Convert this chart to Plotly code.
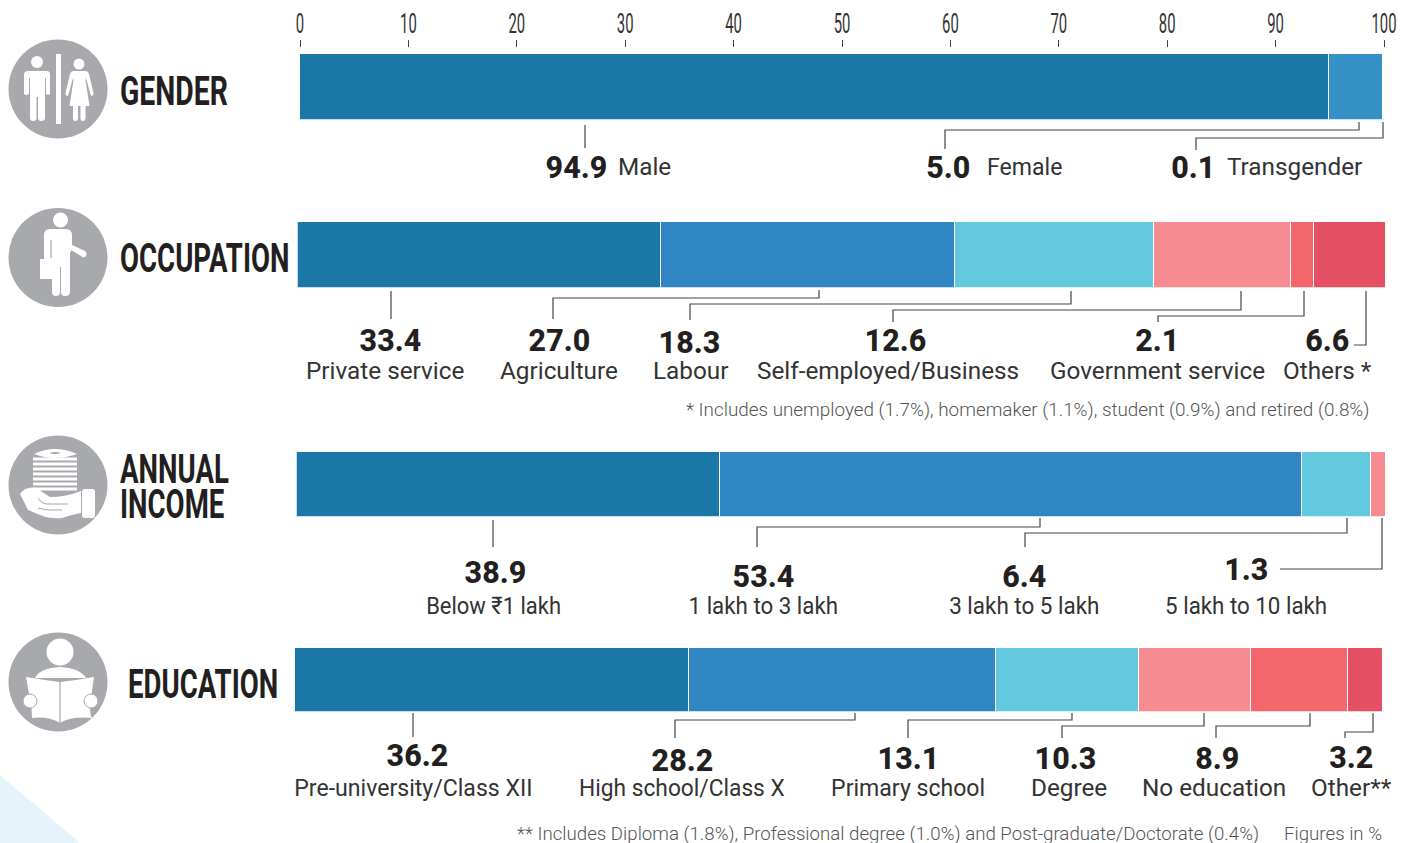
import plotly.graph_objects as go

TITLE_FONT = "Roboto, sans-serif"
BODY = "Roboto, sans-serif"
INK = "#231F20"
TEXT = "#333333"
GREY = "#A7A9AC"

gender_cats = ["Male", "Female", "Transgender"]
gender_vals = [94.9, 5.0, 0.1]
gender_cols = ["#1C77A9", "#3490C5", "#62C9DE"]

occ_cats = ["Private service", "Agriculture", "Labour", "Self-employed/Business", "Government service", "Others *"]
occ_vals = [33.4, 27.0, 18.3, 12.6, 2.1, 6.6]
occ_cols = ["#1C77A9", "#3085C3", "#62C9DE", "#F68B91", "#F2666C", "#E55065"]

inc_cats = ["Below ₹1 lakh", "1 lakh to 3 lakh", "3 lakh to 5 lakh", "5 lakh to 10 lakh"]
inc_vals = [38.9, 53.4, 6.4, 1.3]
inc_cols = ["#1C77A9", "#3085C3", "#62C9DE", "#F68B91"]

edu_cats = ["Pre-university/Class XII", "High school/Class X", "Primary school", "Degree", "No education", "Other**"]
edu_vals = [36.2, 28.2, 13.1, 10.3, 8.9, 3.2]
edu_cols = ["#1C77A9", "#3085C3", "#62C9DE", "#F68B91", "#F2666C", "#E55065"]

tick_vals = [0, 10, 20, 30, 40, 50, 60, 70, 80, 90, 100]

W, H = 1408, 843

rows = [
    ("GENDER", gender_cats, gender_vals, gender_cols, (300, 1384), (54, 119.5)),
    ("OCCUPATION", occ_cats, occ_vals, occ_cols, (297.5, 1385), (222, 287.5)),
    ("ANNUAL INCOME", inc_cats, inc_vals, inc_cols, (296.5, 1385), (452, 516.5)),
    ("EDUCATION", edu_cats, edu_vals, edu_cols, (295, 1383), (648, 711.5)),
]

fig = go.Figure()
layout_axes = {}
for i, (name, cats, vals, cols, xpx, ypx) in enumerate(rows, start=1):
    sx = "" if i == 1 else str(i)
    for c, v, col in zip(cats, vals, cols):
        fig.add_trace(go.Bar(
            y=[name], x=[v], name=c, orientation="h",
            marker=dict(color=col, line=dict(color="white", width=1)),
            xaxis="x" + sx, yaxis="y" + sx, showlegend=False,
            hovertemplate=c + ": %{x}%<extra></extra>",
        ))
    xa = dict(domain=[xpx[0] / W, xpx[1] / W], range=[0, round(sum(vals), 1)], anchor="y" + sx,
              showgrid=False, zeroline=False, showline=False, fixedrange=True, visible=False)
    if i == 1:
        xa.update(visible=True, anchor="free", position=1 - 47 / H, side="top",
                  tickmode="array", tickvals=tick_vals, ticks="outside", ticklen=7,
                  tickwidth=1, tickcolor="#444444", ticklabelstandoff=-4,
                  tickfont=dict(family=BODY, size=28, color=TEXT, weight=400))
    ya = dict(domain=[1 - ypx[1] / H, 1 - ypx[0] / H], anchor="x" + sx, type="category",
              visible=False, fixedrange=True, range=[-0.5, 0.5])
    layout_axes["xaxis" + sx] = xa
    layout_axes["yaxis" + sx] = ya

# pixel-space overlay axes used only for the decoration (icons, leaders, labels)
layout_axes["xaxis5"] = dict(domain=[0, 1], range=[0, W], visible=False, anchor="y5", fixedrange=True)
layout_axes["yaxis5"] = dict(domain=[0, 1], range=[H, 0], visible=False, anchor="x5", fixedrange=True)
fig.add_trace(go.Scatter(x=[0], y=[0], xaxis="x5", yaxis="y5", mode="markers",
                         marker=dict(opacity=0), showlegend=False, hoverinfo="skip"))

shapes = []
def path(d, fill="white", line=None, width=0):
    shapes.append(dict(type="path", path=d, xref="x5", yref="y5", layer="above",
                       fillcolor=fill, line=dict(color=line or fill, width=width)))
def circle(cx, cy, r, fill="white", line=None, width=0):
    shapes.append(dict(type="circle", x0=cx - r, x1=cx + r, y0=cy - r, y1=cy + r, xref="x5", yref="y5",
                       layer="above", fillcolor=fill, line=dict(color=line or fill, width=width)))
def leader(points, color="#444444"):
    d = "M " + " L ".join(f"{x},{y}" for x, y in points)
    shapes.append(dict(type="path", path=d, xref="x5", yref="y5", layer="above",
                       line=dict(color=color, width=1.2)))

# corner wedge
path("M 0,775 L 80,843 L 0,843 Z", fill="#E6F4F9")

# icon discs
for cy in (89, 257.5, 485, 682):
    circle(58, cy, 49.5, fill=GREY)

# gender icon
circle(37, 62, 6)
path("M 28,71 H 47 Q 50,71 50,75 V 93 Q 50,95 48,95 Q 46,95 46,93 V 78 H 45 V 118 Q 45,121 41,121 Q 38,121 38,118 V 97 H 36.5 V 118 Q 36.5,121 33,121 Q 30,121 30,118 V 78 H 29 V 93 Q 29,95 27,95 Q 24,95 24,93 V 75 Q 24,71 28,71 Z")
path("M 56,54 H 61 V 124 H 56 Z")
circle(79, 64, 5.5)
path("M 73,71 H 85 Q 88,71 89,74 L 93.5,93 Q 93.5,96 91,96 L 86,78 L 85.5,80 L 89.5,106 H 85.5 V 118 Q 85.5,121 82.5,121 Q 80.5,121 80.5,118 V 106 H 78 V 118 Q 78,121 75.5,121 Q 73,121 73,118 V 106 H 69.5 L 73.5,80 L 73,78 L 68,96 Q 65.5,96 65.5,93 L 70,74 Q 71,71 73,71 Z")

# occupation icon
circle(60.5, 220, 7.5)
path("M 50,229 H 66 Q 72,229 72,235 V 245 L 85,251 Q 88,254 85,257 Q 83,258 81,256 L 71,250 V 252 H 70 V 292 Q 70,296 65,296 Q 61,296 61,292 V 267 H 60 V 292 Q 60,296 56,296 Q 52,296 52,292 V 260 H 44 V 235 Q 44,229 50,229 Z")
path("M 40,259 H 52 V 279 H 40 Z")
leader([(51, 240), (51, 258)], color=GREY)

# income icon
path("M 34,454 Q 55,444 77,454 Q 55,462 34,454 Z")
path("M 49,453 Q 55,451 61,453 Q 55,455 49,453 Z", fill=GREY)
for y in range(459, 492, 5):
    shapes.append(dict(type="line", x0=33, x1=77, y0=y, y1=y, xref="x5", yref="y5", layer="above",
                       line=dict(color="white", width=3)))
path("M 20,494 Q 26,486 36,488 L 50,497 Q 66,497 81,491 V 513 Q 70,515 62,518 Q 50,519 40,515 L 28,510 Z")
path("M 82,492 Q 82,489 85,489 H 92 Q 95,489 95,492 V 515 Q 95,518 92,518 H 85 Q 82,518 82,515 Z")
path("M 38,498 Q 42,505 50,504 H 68 M 38,508 Q 44,510 50,510 H 62", fill="rgba(0,0,0,0)", line=GREY, width=1)

# education icon
circle(60, 652, 13.5)
path("M 35,678 Q 40,668 60,667 Q 80,668 86,678 Z")
path("M 26,677 Q 44,680 60,682 Q 78,680 94,677 L 90,705 Q 90,716 92,718 Q 72,716 60,723 Q 48,716 32,718 Q 32,708 30,700 Z")
leader([(60, 682), (60, 723)], color=GREY)
circle(30, 701, 7, line=GREY, width=1)
circle(91, 701, 7, line=GREY, width=1)

# leaders
for pts in [
    [(585, 125), (585, 148)],
    [(1359, 122), (1359, 130), (945, 130), (945, 149)],
    [(1383, 122), (1383, 138), (1196, 138), (1196, 150)],
    [(391, 291), (391, 319)],
    [(819, 290), (819, 298), (553, 298), (553, 319)],
    [(1071, 291), (1071, 304), (690, 304), (690, 320)],
    [(1241, 291), (1241, 310), (893, 310), (893, 322)],
    [(1304, 291), (1304, 316), (1158, 316), (1158, 322)],
    [(1366, 291), (1366, 345), (1354, 345)],
    [(493, 520), (493, 547)],
    [(1040, 518), (1040, 527), (757, 527), (757, 547)],
    [(1347, 518), (1347, 533), (1025, 533), (1025, 547)],
    [(1382, 518), (1382, 569), (1280, 569)],
    [(413, 713), (413, 737)],
    [(855, 713), (855, 720), (675, 720), (675, 738)],
    [(1072, 713), (1072, 720), (908, 720), (908, 738)],
    [(1204, 713), (1204, 726), (1062, 726), (1062, 738)],
    [(1310, 713), (1310, 726), (1216, 726), (1216, 738)],
    [(1373, 713), (1373, 732), (1345, 732), (1345, 738)],
]:
    leader(pts)

annotations = []
def text(x, y, s, size, family=BODY, color=TEXT, weight=400, anchor="center"):
    annotations.append(dict(x=x, y=y, xref="x5", yref="y5", text=s, showarrow=False,
                            xanchor=anchor, yanchor="middle",
                            font=dict(family=family, size=size, color=color, weight=weight)))

# section titles
text(118, 91, "GENDER", 40, TITLE_FONT, INK, 700, "left")
text(118, 258, "OCCUPATION", 40, TITLE_FONT, INK, 700, "left")
text(118, 469, "ANNUAL", 40, TITLE_FONT, INK, 700, "left")
text(118, 504, "INCOME", 40, TITLE_FONT, INK, 700, "left")
text(126, 684, "EDUCATION", 40, TITLE_FONT, INK, 700, "left")

# value + name label positions, by row
num_pos = {
    "GENDER": [(576, 167), (948, 167), (1193, 167)],
    "OCCUPATION": [(390, 340), (559, 340), (689, 342), (895, 340), (1157, 340), (1327, 340)],
    "ANNUAL INCOME": [(495, 572), (763, 576), (1024, 576), (1246, 569)],
    "EDUCATION": [(417, 755), (682, 760), (908, 758), (1065, 758), (1217, 758), (1351, 757)],
}
name_pos = {
    "GENDER": [(644, 166), (1024, 166), (1294, 166)],
    "OCCUPATION": [(385, 370), (559, 370), (690, 370), (888, 370), (1157, 370), (1327, 370)],
    "ANNUAL INCOME": [(493, 605), (763, 605), (1024, 605), (1246, 605)],
    "EDUCATION": [(413, 787), (682, 787), (908, 787), (1069, 787), (1214, 787), (1351, 787)],
}
for name, cats, vals, cols, xpx, ypx in rows:
    for c, v, (nx, ny), (lx, ly) in zip(cats, vals, num_pos[name], name_pos[name]):
        text(nx, ny, f"{v:.1f}", 32, BODY, INK, 800)
        text(lx, ly, c, 24.3, BODY, TEXT, 400)

text(1371, 410, "* Includes unemployed (1.7%), homemaker (1.1%), student (0.9%) and retired (0.8%)",
     18.85, BODY, "#555555", 300, "right")
text(1261, 834, "** Includes Diploma (1.8%), Professional degree (1.0%) and Post-graduate/Doctorate (0.4%)",
     18.7, BODY, "#555555", 300, "right")
text(1384, 834, "Figures in %", 18.7, BODY, "#555555", 300, "right")

fig.update_layout(
    width=W, height=H, margin=dict(l=0, r=0, t=0, b=0, pad=0, autoexpand=False),
    paper_bgcolor="white", plot_bgcolor="rgba(0,0,0,0)",
    barmode="stack", bargap=0, showlegend=False,
    shapes=shapes, annotations=annotations, **layout_axes,
)

# No condensed face is installed: squeeze the headline and tick text horizontally.
SQUEEZE = """
document.body.style.margin='0';document.body.style.overflow='hidden';
function squeeze(){
  var bySize={'40px':0.69,'28px':0.53,'32px':0.95};
  var byText={'GENDER':0.71,'Below ₹1 lakh':0.905,'1 lakh to 3 lakh':0.92,'3 lakh to 5 lakh':0.925,'5 lakh to 10 lakh':0.92,
              'Pre-university/Class XII':0.95,'High school/Class X':0.936,'Primary school':0.95,'Female':0.95};
  document.querySelectorAll('.annotation-text, .xtick text').forEach(function(t){
    var s=byText[t.textContent]||bySize[t.style.fontSize]; if(!s||t.dataset.sq) return;
    var b=t.getBBox();
    var cx=b.x+b.width/2;
    var old=t.getAttribute('transform')||'';
    var dx=(t.style.fontSize==='40px')?-(b.width*(1-s))/2:0;
    t.setAttribute('transform',old+' translate('+(cx+dx)+',0) scale('+s+',1) translate('+(-cx)+',0)');
    t.dataset.sq='1';
  });
}
squeeze();setTimeout(squeeze,50);setTimeout(squeeze,300);
"""
fig.write_html("out.html", post_script=SQUEEZE, config={"displayModeBar": False})
